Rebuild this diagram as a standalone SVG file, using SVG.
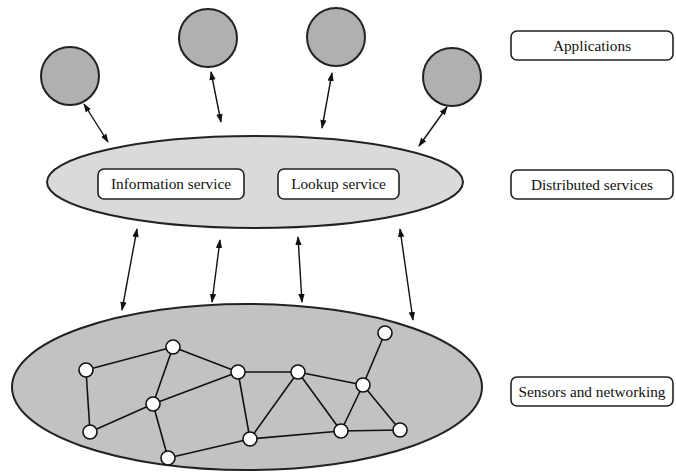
<svg xmlns="http://www.w3.org/2000/svg" width="676" height="475" viewBox="0 0 676 475">
<defs>
<style>
.app{fill:#b0b0b0;stroke:#222;stroke-width:2}
.mid{fill:#dadada;stroke:#222;stroke-width:2}
.bot{fill:#c2c2c2;stroke:#222;stroke-width:2}
.box{fill:#fff;stroke:#222;stroke-width:1.6}
.lbl{font-family:'Liberation Serif','DejaVu Serif',serif;font-size:15.3px;fill:#111;text-anchor:middle}
.ar{stroke:#111;stroke-width:1.4;fill:none;marker-start:url(#ah);marker-end:url(#ah)}
.ed{stroke:#111;stroke-width:1.6}
.nd{fill:#fff;stroke:#111;stroke-width:1.6}
</style>
<marker id="ah" viewBox="0 0 10 10" refX="9" refY="5" markerWidth="9" markerHeight="9" markerUnits="userSpaceOnUse" orient="auto-start-reverse">
<path d="M0,1.5 L10,5 L0,8.5 Z" fill="#111"/>
</marker>
</defs>
<rect width="676" height="475" fill="#fff"/>
<g id="app1"><circle class="app" cx="70" cy="76" r="29"/></g>
<g id="app2"><circle class="app" cx="208" cy="38" r="29"/></g>
<g id="app3"><circle class="app" cx="336" cy="37" r="29"/></g>
<g id="app4"><circle class="app" cx="452" cy="77" r="29"/></g>
<g id="distributed">
<ellipse class="mid" cx="255" cy="182" rx="208" ry="46"/>
</g>
<g id="info"><rect class="box" x="98" y="169" width="146" height="30" rx="6"/><text class="lbl" x="171" y="189">Information service</text></g>
<g id="lookup"><rect class="box" x="278" y="169" width="121" height="30" rx="6"/><text class="lbl" x="338.5" y="189">Lookup service</text></g>
<g id="lbl-apps"><rect class="box" x="511" y="31" width="162" height="29" rx="6"/><text class="lbl" x="592" y="51">Applications</text></g>
<g id="lbl-dist"><rect class="box" x="511" y="170" width="162" height="29" rx="6"/><text class="lbl" x="592" y="190">Distributed services</text></g>
<g id="lbl-sens"><rect class="box" x="511" y="377" width="162" height="29" rx="6"/><text class="lbl" x="592" y="397">Sensors and networking</text></g>
<g id="sensors">
<ellipse class="bot" cx="247" cy="387" rx="235" ry="83"/>
</g>
<g id="connectors">
<line class="ar" x1="84" y1="104" x2="108" y2="142"/>
<line class="ar" x1="211" y1="72" x2="221" y2="122"/>
<line class="ar" x1="332" y1="73" x2="322" y2="128"/>
<line class="ar" x1="447" y1="107" x2="419" y2="146"/>
<line class="ar" x1="137" y1="229" x2="122" y2="310"/>
<line class="ar" x1="220" y1="240" x2="212" y2="302"/>
<line class="ar" x1="298" y1="237" x2="302" y2="302"/>
<line class="ar" x1="400" y1="229" x2="413" y2="320"/>
</g>
<g id="network-edges">
<line class="ed" x1="86" y1="370" x2="173" y2="347"/>
<line class="ed" x1="86" y1="370" x2="90" y2="432"/>
<line class="ed" x1="173" y1="347" x2="153" y2="404"/>
<line class="ed" x1="173" y1="347" x2="238" y2="372"/>
<line class="ed" x1="238" y1="372" x2="298" y2="372"/>
<line class="ed" x1="238" y1="372" x2="153" y2="404"/>
<line class="ed" x1="238" y1="372" x2="250" y2="439"/>
<line class="ed" x1="153" y1="404" x2="90" y2="432"/>
<line class="ed" x1="153" y1="404" x2="168" y2="458"/>
<line class="ed" x1="168" y1="458" x2="250" y2="439"/>
<line class="ed" x1="250" y1="439" x2="298" y2="372"/>
<line class="ed" x1="298" y1="372" x2="341" y2="431"/>
<line class="ed" x1="298" y1="372" x2="363" y2="385"/>
<line class="ed" x1="250" y1="439" x2="341" y2="431"/>
<line class="ed" x1="341" y1="431" x2="363" y2="385"/>
<line class="ed" x1="341" y1="431" x2="400" y2="430"/>
<line class="ed" x1="363" y1="385" x2="400" y2="430"/>
<line class="ed" x1="363" y1="385" x2="385" y2="333"/>
</g>
<g id="n1"><circle class="nd" cx="86" cy="370" r="7"/></g>
<g id="n2"><circle class="nd" cx="173" cy="347" r="7"/></g>
<g id="n3"><circle class="nd" cx="238" cy="372" r="7"/></g>
<g id="n4"><circle class="nd" cx="298" cy="372" r="7"/></g>
<g id="n5"><circle class="nd" cx="363" cy="385" r="7"/></g>
<g id="n6"><circle class="nd" cx="385" cy="333" r="7"/></g>
<g id="n7"><circle class="nd" cx="153" cy="404" r="7"/></g>
<g id="n8"><circle class="nd" cx="90" cy="432" r="7"/></g>
<g id="n9"><circle class="nd" cx="168" cy="458" r="7"/></g>
<g id="n10"><circle class="nd" cx="250" cy="439" r="7"/></g>
<g id="n11"><circle class="nd" cx="341" cy="431" r="7"/></g>
<g id="n12"><circle class="nd" cx="400" cy="430" r="7"/></g>
</svg>
